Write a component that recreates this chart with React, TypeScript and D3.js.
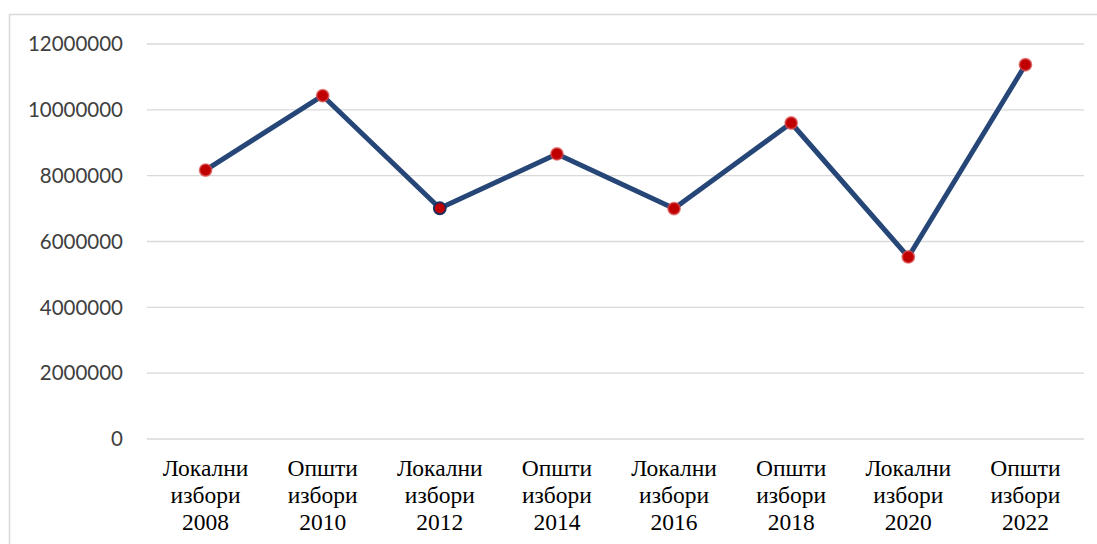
import React from 'react';
import * as d3 from 'd3';

// categories (each label split on lines)
const categories = [
  'Локални избори 2008',
  'Општи избори 2010',
  'Локални избори 2012',
  'Општи избори 2014',
  'Локални избори 2016',
  'Општи избори 2018',
  'Локални избори 2020',
  'Општи избори 2022',
];
const values = [8170000, 10430000, 7010000, 8660000, 7000000, 9600000, 5530000, 11370000];
const yTicks = [0, 2000000, 4000000, 6000000, 8000000, 10000000, 12000000];

const W = 1097;
const H = 544;
const M = { left: 147, right: 13, top: 44, bottom: 105 };

export default function App() {
  const x = d3.scaleBand<string>().domain(categories).range([M.left, W - M.right]);
  const y = d3.scaleLinear().domain([0, 12000000]).range([H - M.bottom, M.top]);
  const cx = (c: string) => (x(c) ?? 0) + x.bandwidth() / 2;

  const line = d3.line<number>()
    .x((_, i) => cx(categories[i]))
    .y(d => y(d));

  return (
    <svg width={W} height={H} style={{ position: 'absolute', left: 0, top: 0, background: '#fff' }}>
      <rect x={9.5} y={14.5} width={W + 10} height={H + 10} fill="#fff" stroke="#d9d9d9" strokeWidth={1.5} />

      {/* gridlines + y labels */}
      {yTicks.map(t => (
        <g key={t}>
          <line x1={M.left} x2={W - M.right} y1={y(t)} y2={y(t)} stroke="#d9d9d9" strokeWidth={1.4} />
          <text x={123} y={y(t)} dy="0.35em" textAnchor="end"
            fontFamily="Lato, 'Open Sans', sans-serif" fontSize={20.5} fill="#404040">
            {t}
          </text>
        </g>
      ))}

      {/* x labels */}
      {categories.map(c => (
        <text key={c} textAnchor="middle" fontFamily="'Liberation Serif', 'DejaVu Serif', serif" fontSize={23.5} fill="#000">
          {c.split(' ').map((w, j) => (
            <tspan key={j} x={cx(c)} y={476 + j * 27}>{w}</tspan>
          ))}
        </text>
      ))}

      <path d={line(values) ?? ''} fill="none" stroke="#254677" strokeWidth={5} strokeLinejoin="round" />

      {values.map((v, i) => (
        <circle key={i} cx={cx(categories[i])} cy={y(v)} r={6}
          fill="#c00000"
          stroke={i === 2 ? '#1f2f5e' : '#d84848'}
          strokeOpacity={i === 2 ? 1 : 0.7}
          strokeWidth={1.8} />
      ))}
    </svg>
  );
}
